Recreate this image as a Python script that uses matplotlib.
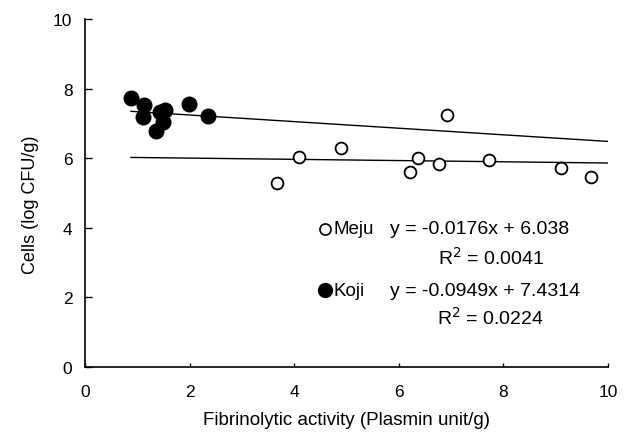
import matplotlib
matplotlib.use("Agg")
import matplotlib.pyplot as plt
import numpy as np

plt.rcParams["font.family"] = ["Liberation Sans", "DejaVu Sans"]

# Meju (open circles)
meju_x = [3.68, 4.10, 4.89, 6.37, 6.21, 6.77, 6.93, 7.72, 9.10, 9.67]
meju_y = [5.28, 6.04, 6.29, 6.01, 5.59, 5.83, 7.24, 5.95, 5.72, 5.46]

# Koji (filled circles)
koji_x = [0.88, 1.13, 1.10, 1.53, 1.43, 1.50, 1.36, 1.98, 2.36]
koji_y = [7.72, 7.53, 7.19, 7.39, 7.32, 7.05, 6.77, 7.57, 7.22]

# fitted lines as printed on the chart
meju_fit = (-0.0176, 6.038)
koji_fit = (-0.0949, 7.4314)
fit_range = [0.88, 10.0]

fig = plt.figure(figsize=(6.29, 4.35), dpi=100)
ax = fig.add_axes([0.1351, 0.154, 0.8315, 0.80])

xs = np.array(fit_range)
ax.plot(xs, meju_fit[0] * xs + meju_fit[1], color="black", lw=1.0, zorder=2)
ax.plot(xs, koji_fit[0] * xs + koji_fit[1], color="black", lw=1.0, zorder=2)

ax.plot(meju_x, meju_y, "o", ms=8.5, mfc="white", mec="black", mew=1.3, zorder=3)
ax.plot(koji_x, koji_y, "o", ms=10.5, mfc="black", mec="black", zorder=3)

# legend-style annotation
ax.plot([4.59], [3.97], "o", ms=8, mfc="white", mec="black", mew=1.2, clip_on=False)
ax.plot([4.59], [2.21], "o", ms=10, mfc="black", mec="black", clip_on=False)
fs = 14
ax.text(4.76, 3.97, "Meju", fontsize=13.5, va="center", ha="left")
ax.text(4.76, 2.21, "Koji", fontsize=13.5, va="center", ha="left")
ax.text(5.84, 3.97, "y = -0.0176x + 6.038", fontsize=fs, va="center", ha="left")
ax.text(7.76, 3.16, "R$^2$ = 0.0041", fontsize=fs, va="center", ha="center")
ax.text(5.84, 2.21, "y = -0.0949x + 7.4314", fontsize=fs, va="center", ha="left")
ax.text(7.76, 1.44, "R$^2$ = 0.0224", fontsize=fs, va="center", ha="center")

ax.set_xlim(0, 10)
ax.set_ylim(0, 10)
ax.set_xticks([0, 2, 4, 6, 8, 10])
ax.set_yticks([0, 2, 4, 6, 8, 10])
ax.spines["top"].set_visible(False)
ax.spines["right"].set_visible(False)
for s in ("left", "bottom"):
    ax.spines[s].set_linewidth(1.2)
ax.tick_params(axis="y", direction="in", length=5, width=1.0, pad=9, labelsize=12.5)
ax.tick_params(axis="x", direction="in", length=3, width=1.0, pad=12, labelsize=12.5)

ax.set_xlabel("Fibrinolytic activity (Plasmin unit/g)", fontsize=13.5)
ax.xaxis.set_label_coords(0.5, -0.125)
ax.set_ylabel("Cells (log CFU/g)", fontsize=13)
ax.yaxis.set_label_coords(-0.088, 0.47)

fig.savefig("out.png", dpi=100)
